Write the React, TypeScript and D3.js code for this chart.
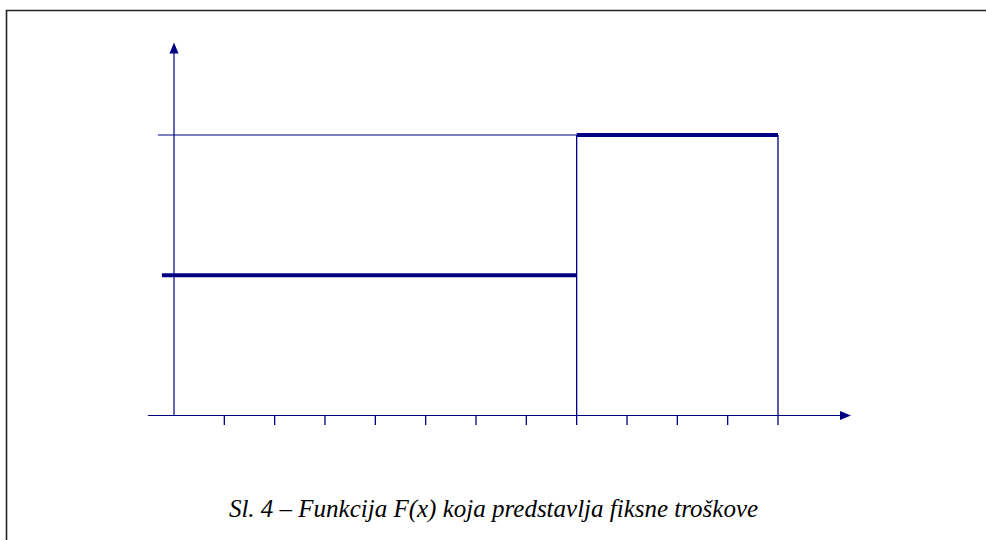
import React from "react";
import * as d3 from "d3";

const ticks = [1, 2, 3, 4, 5, 6, 7, 8, 9, 10, 11, 12];
const levels = [1, 2];
const breaks = [0, 8, 12];
const caption = "Sl. 4 – Funkcija F(x) koja predstavlja fiksne troškove";

const W = 986;
const H = 540;
const NAVY = "#000080";

export default function App() {
  const x = d3.scaleLinear().domain([0, 12]).range([174, 778]);
  const y = d3.scaleLinear().domain([0, 2]).range([415.5, 135]);
  const line = d3.line<[number, number]>().x((d) => x(d[0])).y((d) => y(d[1]));

  const xAxisStart = x(-0.52);
  const xAxisEnd = x(13.45);
  const yAxisTop = y(2.66);

  return (
    <svg
      width={W}
      height={H}
      style={{ position: "absolute", left: 0, top: 0, background: "#fff" }}
    >
      {/* frame */}
      <path d={`M6.5,${H + 5} L6.5,10.5 L${W + 5},10.5`} fill="none" stroke="#222" strokeWidth={1.6} />

      {/* x axis */}
      <line x1={xAxisStart} x2={xAxisEnd - 8} y1={y(0)} y2={y(0)} stroke={NAVY} strokeWidth={1.2} />
      <path
        d={`M${xAxisEnd},${y(0)} L${xAxisEnd - 11},${y(0) - 4.5} L${xAxisEnd - 11},${y(0) + 4.5} Z`}
        fill={NAVY}
      />
      {ticks.map((t) => (
        <line key={t} x1={x(t)} x2={x(t)} y1={y(0)} y2={y(0) + 9.5} stroke={NAVY} strokeWidth={1.3} />
      ))}

      {/* y axis */}
      <line x1={x(0)} x2={x(0)} y1={y(0)} y2={yAxisTop + 8} stroke={NAVY} strokeWidth={1.2} />
      <path
        d={`M${x(0)},${yAxisTop} L${x(0) - 4.5},${yAxisTop + 11} L${x(0) + 4.5},${yAxisTop + 11} Z`}
        fill={NAVY}
      />

      {/* thin reference line at upper level */}
      <path d={line([[-0.32, levels[1]], [breaks[1], levels[1]]]) || ""} stroke={NAVY} strokeWidth={1.1} fill="none" />

      {/* verticals */}
      {breaks.slice(1).map((b) => (
        <path key={b} d={line([[b, 0], [b, levels[1]]]) || ""} stroke={NAVY} strokeWidth={1.3} fill="none" />
      ))}

      {/* step function */}
      <path d={line([[-0.24, levels[0]], [breaks[1], levels[0]]]) || ""} stroke={NAVY} strokeWidth={4} fill="none" />
      <path d={line([[breaks[1], levels[1]], [breaks[2], levels[1]]]) || ""} stroke={NAVY} strokeWidth={4} fill="none" />

      {/* caption */}
      <text
        x={493.5}
        y={517}
        textAnchor="middle"
        style={{
          fontFamily: '"Liberation Serif", "DejaVu Serif", serif',
          fontStyle: "italic",
          fontSize: "25px",
        }}
        fill="#000"
      >
        {caption}
      </text>
    </svg>
  );
}
